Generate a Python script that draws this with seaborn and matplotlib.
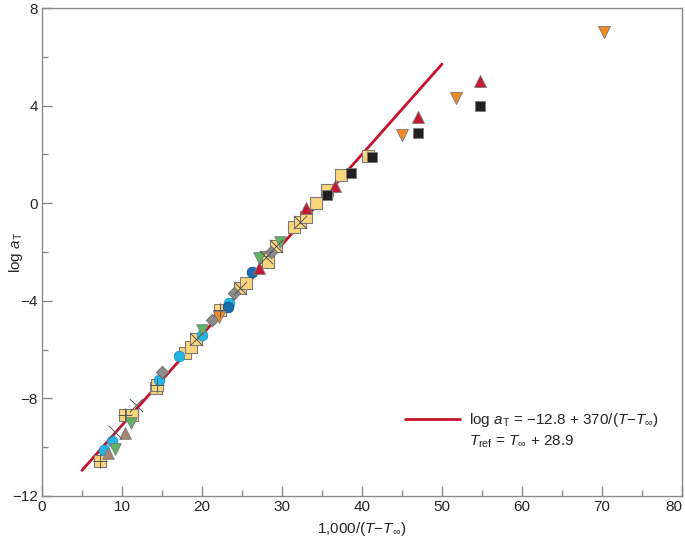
import numpy as np
import pandas as pd
import matplotlib
matplotlib.use("Agg")
import matplotlib.pyplot as plt
from matplotlib.lines import Line2D
from matplotlib.ticker import MultipleLocator
import seaborn as sns

# ---- data ----
yellow_x = [7.2, 10.4, 11.2, 14.2, 14.4, 17.9, 18.6, 19.2, 22.3, 24.8, 25.5,
            28.0, 28.2, 29.2, 31.5, 32.2, 33.0, 34.2, 35.6, 37.4, 40.7]
yellow_y = [-10.57, -8.68, -8.68, -7.57, -7.45, -6.15, -5.88, -5.55, -4.38, -3.49, -3.28,
            -2.19, -2.4, -1.75, -0.96, -0.76, -0.55, 0.0, 0.54, 1.16, 1.93]

plus_x = [7.2, 10.4, 14.4, 22.3]
plus_y = [-10.57, -8.68, -7.45, -4.38]

cross_x = [9.15, 11.7, 19.2, 24.8, 28.0, 29.2, 32.2]
cross_y = [-9.37, -8.27, -5.55, -3.49, -2.19, -1.75, -0.76]

cyan_x = [7.8, 8.7, 14.6, 17.1, 20.0, 23.4]
cyan_y = [-10.1, -9.73, -7.25, -6.25, -5.4, -4.1]

blue_x = [23.2, 26.3]
blue_y = [-4.24, -2.8]

green_x = [9.15, 11.1, 20.0, 27.1, 29.8]
green_y = [-10.09, -9.02, -5.2, -2.25, -1.58]

brown_x = [8.3, 10.4]
brown_y = [-10.25, -9.43]

gray_x = [15.0, 21.3, 24.0, 28.6]
gray_y = [-6.9, -4.79, -3.69, -2.0]

orange_x = [22.1, 45.0, 51.8, 70.2]
orange_y = [-4.65, 2.8, 4.3, 7.0]

red_x = [27.1, 33.0, 36.6, 47.0, 54.8]
red_y = [-2.67, -0.21, 0.7, 3.55, 5.0]

black_x = [35.6, 38.6, 41.25, 47.0, 54.7]
black_y = [0.34, 1.25, 1.9, 2.86, 4.0]

# WLF-type fit: log aT = -12.8 + 370/(T - Tinf)
fit_a, fit_b = -12.8, 0.37
fit_x = np.array([5, 50])
fit_y = fit_a + fit_b * fit_x

sns.set_style("ticks")
plt.rcParams['font.family'] = ['Liberation Sans', 'DejaVu Sans']
plt.rcParams['mathtext.fontset'] = 'custom'
plt.rcParams['mathtext.rm'] = 'Liberation Sans'
plt.rcParams['mathtext.it'] = 'Liberation Sans:italic'

fig, ax = plt.subplots(figsize=(6.85, 5.41), dpi=100)
fig.subplots_adjust(left=0.0613, right=0.9956, top=0.9852, bottom=0.0832)

sns.lineplot(x=fit_x, y=fit_y, ax=ax, color='#C8102E', lw=2.0, zorder=2)

edge = '#7a7a7a'
sns.scatterplot(x=yellow_x, y=yellow_y, ax=ax, marker='s', s=75, color='#FBD57C',
                edgecolor=edge, linewidth=0.8, zorder=3)
sns.scatterplot(x=plus_x, y=plus_y, ax=ax, marker='+', s=90, color='#555555',
                linewidth=0.7, zorder=4)
sns.scatterplot(x=cross_x, y=cross_y, ax=ax, marker='x', s=90, color='#555555',
                linewidth=0.7, zorder=4)
sns.scatterplot(x=cyan_x, y=cyan_y, ax=ax, marker='o', s=60, color='#25B4E6',
                edgecolor='#1b8fbf', linewidth=0.5, zorder=3)
sns.scatterplot(x=blue_x, y=blue_y, ax=ax, marker='o', s=60, color='#1A6DAE',
                edgecolor='#124c7a', linewidth=0.5, zorder=3)
sns.scatterplot(x=green_x, y=green_y, ax=ax, marker='v', s=70, color='#5DB462',
                edgecolor=edge, linewidth=0.6, zorder=3)
sns.scatterplot(x=brown_x, y=brown_y, ax=ax, marker='^', s=70, color='#A88570',
                edgecolor=edge, linewidth=0.6, zorder=3)
sns.scatterplot(x=gray_x, y=gray_y, ax=ax, marker='D', s=40, color='#8C8C8C',
                edgecolor='#666666', linewidth=0.6, zorder=3)
sns.scatterplot(x=orange_x, y=orange_y, ax=ax, marker='v', s=75, color='#EE8A26',
                edgecolor=edge, linewidth=0.6, zorder=3)
sns.scatterplot(x=red_x, y=red_y, ax=ax, marker='^', s=75, color='#C21A30',
                edgecolor=edge, linewidth=0.6, zorder=3)
sns.scatterplot(x=black_x, y=black_y, ax=ax, marker='s', s=60, color='#231F20',
                edgecolor=edge, linewidth=0.6, zorder=3)

ax.set_xlim(0, 80)
ax.set_ylim(-12, 8)
ax.xaxis.set_major_locator(MultipleLocator(10))
ax.xaxis.set_minor_locator(MultipleLocator(5))
ax.yaxis.set_major_locator(MultipleLocator(4))
ax.yaxis.set_minor_locator(MultipleLocator(2))
ax.tick_params(which='both', direction='in', color='#8a8a8a', width=1,
               labelsize=11, pad=3)
ax.tick_params(which='major', length=7)
ax.tick_params(which='minor', length=4.3)
for sp in ax.spines.values():
    sp.set_color('#8a8a8a')
    sp.set_linewidth(1)

ax.set_xlabel('1,000/($T$\u2212$T_{\\infty}$)', fontsize=11)
ax.set_ylabel(r'log $a_\mathrm{T}$', fontsize=11)
ax.yaxis.set_label_coords(-0.027, 0.5)

handles = [Line2D([], [], color='#C8102E', lw=2.0),
           Line2D([], [], color='none')]
labels = ['log $a_\\mathrm{T}$ = \u221212.8 + 370/($T$\u2212$T_{\\infty}$)',
          '$T_\\mathrm{ref}$ = $T_{\\infty}$ + 28.9']
ax.legend(handles, labels, loc='lower right', bbox_to_anchor=(0.985, 0.066),
          frameon=False, fontsize=11, handlelength=3.6, handletextpad=0.6,
          labelspacing=0.3)

# keep the last x tick label ("80") inside the figure
fig.canvas.draw()
for tick in ax.xaxis.get_major_ticks():
    if tick.label1.get_text() == '80':
        tick.label1.set_horizontalalignment('right')

fig.savefig('out.png', dpi=100)
